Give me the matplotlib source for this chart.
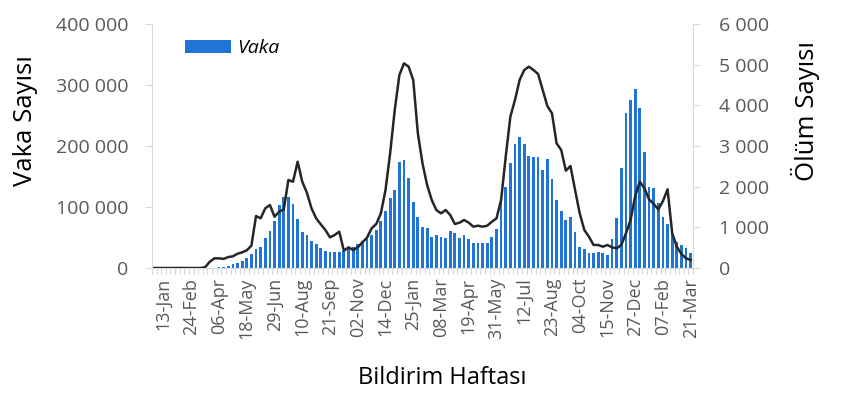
import matplotlib
matplotlib.use("Agg")
import matplotlib.pyplot as plt
from matplotlib.ticker import FuncFormatter, FixedLocator
import numpy as np

plt.rcParams['font.family'] = ['Open Sans', 'DejaVu Sans']

# weekly counts, first category = 30-Dec-2019
vaka = [0] * 13 + [
    500, 1200, 2000,
    3300, 6000, 8700, 12000, 15900, 23000, 30600, 35000, 48600, 61200,
    77000, 103800, 115900, 116400, 104900, 80900, 59000, 53600, 44800, 39300,
    33300, 28400, 25700, 25700, 25700, 28400, 30600, 33900, 38800, 44800,
    47000, 53600, 62300, 77600, 94000, 114300, 127900, 174300, 177000,
    147000, 107700, 84000, 67700, 65000, 50300, 53600, 51400, 48600, 61200,
    57900, 49700, 53600, 48100, 41500, 41500, 41500, 41500, 51400, 64500,
    111000, 133000, 171600, 203000, 214000, 202700, 183600, 181500, 181500,
    160700, 179400, 145900, 111500, 94000, 78700, 84000, 58500, 34900, 30600,
    25100, 25100, 26200, 24100, 21300, 47000, 82500, 163400, 254600, 275000,
    293000, 261800, 190700, 133300, 130600, 106000, 83000, 72000, 55700,
    43200, 37700, 32300, 24100,
]

olum = [0] * 11 + [
    20, 155, 238, 238, 225, 270, 287, 352, 385, 434, 549, 1279, 1222, 1468,
    1549, 1262, 1385, 1443, 2164, 2122, 2614, 2122, 1852, 1468, 1222, 1074,
    934, 754, 811, 893, 426, 508, 443, 508, 631, 746, 975, 1082, 1344, 1918,
    2820, 3885, 4746, 5033,
    4951, 4623, 3312, 2574, 2041, 1672, 1426, 1344, 1426, 1303, 1082, 1115,
    1180, 1115, 1016, 1041, 1016, 1041, 1139, 1221, 1672, 2738, 3721, 4131,
    4623, 4869, 4951, 4869, 4770, 4377, 3984, 3804, 3066, 2902, 2393, 2508,
    1918, 1344, 934, 770, 566, 566, 524, 566, 508, 484, 566, 853, 1180, 1770,
    2122, 1959, 1689, 1574, 1443, 1648, 1935, 853, 524, 344, 238, 197,
]

etiketler = ['13-Jan', '24-Feb', '06-Apr', '18-May', '29-Jun', '10-Aug',
             '21-Sep', '02-Nov', '14-Dec', '25-Jan', '08-Mar', '19-Apr',
             '31-May', '12-Jul', '23-Aug', '04-Oct', '15-Nov', '27-Dec',
             '07-Feb', '21-Mar']

x = np.arange(len(vaka))
grey = '#d9d9d9'
txt = '#595959'

fig = plt.figure(figsize=(8.5, 3.97), dpi=100)
ax = fig.add_axes([0.1788, 0.3249, 0.6365, 0.6146])
ax.bar(x, vaka, width=0.6, color='#1f74d6', label='Vaka', zorder=2)
ax.set_xlim(-0.5, len(vaka) - 0.5)
ax.set_ylim(0, 400000)
ax.set_yticks(np.arange(0, 400001, 100000))

sep = FuncFormatter(lambda v, p: f'{int(v):,}'.replace(',', ' '))
ax.yaxis.set_major_formatter(sep)

ax.set_xticks(np.arange(2, len(vaka), 6))
ax.set_xticklabels(etiketler, rotation=90)
ax.xaxis.set_minor_locator(FixedLocator(np.arange(-0.5, len(vaka), 1)))
ax.tick_params(axis='x', which='major', length=0, pad=7, labelsize=13, labelcolor=txt)
ax.tick_params(axis='x', which='minor', length=4, color=grey, width=0.8)
ax.tick_params(axis='y', length=5, color=grey, labelsize=14, labelcolor=txt, pad=12)

for s in ['top', 'right']:
    ax.spines[s].set_visible(False)
ax.spines['left'].set_color(grey)
ax.spines['bottom'].set_color(grey)

ax2 = ax.twinx()
ax2.plot(x, olum, color='#262626', lw=1.8, zorder=3)
ax2.set_ylim(0, 6000)
ax2.set_yticks(np.arange(0, 6001, 1000))
ax2.yaxis.set_major_formatter(sep)
ax2.tick_params(axis='y', length=5, color=grey, labelsize=14, labelcolor=txt, pad=14)
for s in ['top', 'left', 'bottom']:
    ax2.spines[s].set_visible(False)
ax2.spines['right'].set_color(grey)

leg = ax.legend(loc='upper left', bbox_to_anchor=(0.028, 1.01), frameon=False,
                prop={'style': 'italic', 'size': 14}, handlelength=2.4,
                handleheight=0.65, handletextpad=0.3)

fig.text(25 / 850, 1 - 121 / 397, 'Vaka Sayısı', rotation=90, ha='center',
         va='center', fontsize=18.5)
fig.text(805 / 850, 1 - 111 / 397, 'Ölüm Sayısı', rotation=90, ha='center',
         va='center', fontsize=18.5)
fig.text(442 / 850, 1 - 378 / 397, 'Bildirim Haftası', ha='center',
         va='center', fontsize=17)

fig.savefig('out.png', dpi=100)
